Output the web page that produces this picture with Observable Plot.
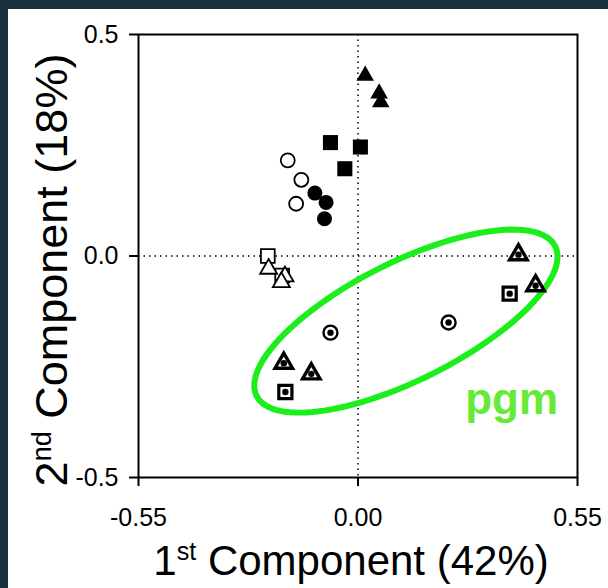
<!DOCTYPE html>
<html><head><meta charset="utf-8">
<script src="https://cdn.jsdelivr.net/npm/d3@7"></script>
<script src="https://cdn.jsdelivr.net/npm/@observablehq/plot@0.6"></script>
<style>
body{margin:0;background:#fff;}
#wrap{position:relative;width:608px;height:588px;overflow:hidden;}
#chart{position:absolute;left:0;top:0;}
.bar{position:absolute;background:#17313e;}
#chart svg [aria-label*="axis"] path, #chart svg [aria-label*="axis"] line{stroke-width:2px;stroke:#000;}
</style></head><body>
<div id="wrap"><div id="chart"></div>
<div class="bar" style="left:0;top:0;width:608px;height:9px"></div>
<div class="bar" style="left:0;top:0;width:8px;height:588px"></div>
</div>
<script>
// ---- data (PCA scores) ----
const filledTriangleX = [0.018, 0.053, 0.057];
const filledTriangleY = [0.407, 0.367, 0.347];
const filledSquareX = [-0.069, 0.006, -0.033];
const filledSquareY = [0.256, 0.246, 0.197];
const openCircleX = [-0.176, -0.142, -0.155];
const openCircleY = [0.216, 0.172, 0.118];
const filledCircleX = [-0.108, -0.080, -0.084];
const filledCircleY = [0.142, 0.121, 0.084];
const openSquareX = [-0.226, -0.190];
const openSquareY = [0.000, -0.044];
const openTriangleX = [-0.224, -0.183, -0.192];
const openTriangleY = [-0.029, -0.046, -0.059];
const dotCircleX = [-0.069, 0.227];
const dotCircleY = [-0.173, -0.150];
const dotTriangleX = [-0.186, -0.117, 0.402, 0.445];
const dotTriangleY = [-0.242, -0.266, 0.003, -0.067];
const dotSquareX = [-0.182, 0.380];
const dotSquareY = [-0.307, -0.085];

const xTicks = [-0.55, 0, 0.55];
const yTicks = [-0.5, 0, 0.5];
const xTitle = ["1", "st", " Component (42%)"];
const yTitle = ["2", "nd", " Component (18%)"];

// pgm grouping ellipse (centre in data units, semi-axes in px, tilt in degrees)
const ellipseCenter = [0.120, -0.147];
const ellipseAxes = [167, 59];
const ellipseTilt = 26.6;
const groupLabel = {text: "pgm", x: 0.385, y: -0.324};

// ---- layout ----
const W = 608, H = 588, mL = 138, mR = 31, mT = 34, mB = 111;
const kx = (W - mL - mR) / 1.1, ky = (H - mT - mB) / 1.0;

const pts = (xs, ys) => xs.map((x, i) => ({x, y: ys[i]}));
const th = ellipseTilt * Math.PI / 180;
const ellipsePts = d3.range(0, 361, 3).map(a => {
  const t = a * Math.PI / 180;
  const px = ellipseAxes[0] * Math.cos(t) * Math.cos(th) + ellipseAxes[1] * Math.sin(t) * Math.sin(th);
  const py = -ellipseAxes[0] * Math.cos(t) * Math.sin(th) + ellipseAxes[1] * Math.sin(t) * Math.cos(th);
  return {x: ellipseCenter[0] + px / kx, y: ellipseCenter[1] - py / ky};
});

const dotted = pts([...dotCircleX, ...dotTriangleX, ...dotSquareX], [...dotCircleY, ...dotTriangleY, ...dotSquareY]);

const plot = Plot.plot({
  width: W, height: H,
  marginLeft: mL, marginRight: mR, marginTop: mT, marginBottom: mB,
  style: {fontFamily: "'Liberation Sans', Arial, sans-serif", fontSize: "25px", color: "#000", background: "#fff"},
  x: {domain: [-0.55, 0.55], ticks: xTicks, tickFormat: d => d.toFixed(2), tickSize: 9, tickPadding: 22, label: null},
  y: {domain: [-0.5, 0.5], ticks: yTicks, tickFormat: d => d.toFixed(1), tickSize: 9, tickPadding: 11, label: null},
  marks: [
    Plot.ruleY([0], {stroke: "#000", strokeWidth: 1.5, strokeDasharray: "1.5,4"}),
    Plot.ruleX([0], {stroke: "#000", strokeWidth: 1.5, strokeDasharray: "1.5,4"}),
    Plot.line(ellipsePts, {x: "x", y: "y", stroke: "#1cee1c", strokeWidth: 6, curve: "linear-closed"}),
    Plot.dot(pts(filledTriangleX, filledTriangleY), {x: "x", y: "y", symbol: "triangle", r: 6.5, fill: "#000"}),
    Plot.dot(pts(filledSquareX, filledSquareY), {x: "x", y: "y", symbol: "square", r: 8.5, fill: "#000"}),
    Plot.dot(pts(openCircleX, openCircleY), {x: "x", y: "y", symbol: "circle", r: 7, fill: "#fff", stroke: "#000", strokeWidth: 1.8}),
    Plot.dot(pts(filledCircleX, filledCircleY), {x: "x", y: "y", symbol: "circle", r: 7.5, fill: "#000"}),
    Plot.dot(pts(openSquareX, openSquareY), {x: "x", y: "y", symbol: "square", r: 7.8, fill: "#fff", stroke: "#000", strokeWidth: 1.8}),
    Plot.dot(pts(openTriangleX, openTriangleY), {x: "x", y: "y", symbol: "triangle", r: 6.3, fill: "#fff", stroke: "#000", strokeWidth: 1.8}),
    Plot.dot(pts(dotCircleX, dotCircleY), {x: "x", y: "y", symbol: "circle", r: 7, fill: "#fff", stroke: "#000", strokeWidth: 2.4}),
    Plot.dot(pts(dotTriangleX, dotTriangleY), {x: "x", y: "y", symbol: "triangle", r: 6.5, fill: "#fff", stroke: "#000", strokeWidth: 3.4}),
    Plot.dot(pts(dotSquareX, dotSquareY), {x: "x", y: "y", symbol: "square", r: 7.4, fill: "#fff", stroke: "#000", strokeWidth: 3.2}),
    Plot.dot(dotted, {x: "x", y: "y", symbol: "circle", r: 3.2, fill: "#000"}),
    Plot.text([groupLabel], {x: "x", y: "y", text: "text", fontSize: 44, fontWeight: "bold", fill: "#66ea38", textAnchor: "middle"}),
    Plot.frame({stroke: "#000", strokeWidth: 2})
  ]
});
document.getElementById("chart").appendChild(plot);

const svg = d3.select(plot);
function title(parts, x, y, size, rotate) {
  const t = svg.append("text")
    .attr("transform", `translate(${x},${y})` + (rotate ? " rotate(-90)" : ""))
    .attr("text-anchor", "middle")
    .attr("font-family", "'Liberation Sans', Arial, sans-serif")
    .attr("font-size", size).attr("fill", "#000");
  const sup = Math.round(size * 0.36);
  t.append("tspan").text(parts[0]);
  t.append("tspan").attr("font-size", size * 0.6).attr("dy", -sup).text(parts[1]);
  t.append("tspan").attr("dy", sup).text(parts[2]);
}
title(xTitle, 351, 575, 42, false);
title(yTitle, 67, 270, 45, true);
</script>
</body></html>
